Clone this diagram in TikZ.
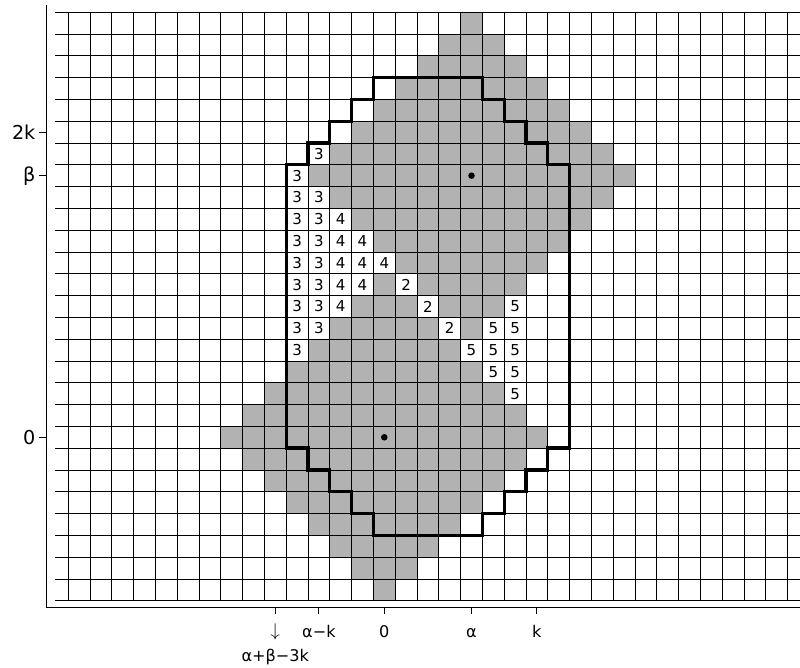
\documentclass[tikz,border=0pt]{standalone}
\usepackage{fontspec}
\setmainfont{DejaVu Sans}
\definecolor{cellgray}{gray}{0.7}
\begin{document}
\begin{tikzpicture}[x=0.5cm, y=0.5cm,
    gridline/.style={line width=0.5pt, black},
    boundary/.style={line width=2.2pt, black},
    axis/.style={line width=0.6pt, black},
    numcell/.style={fill=white, inner sep=0, outer sep=0, minimum size=0.5cm, font=\fontsize{9.8}{10}\selectfont},
    xlabel/.style={anchor=base, inner sep=0, outer sep=0, font=\fontsize{10.5}{12}\selectfont},
    ylabel/.style={anchor=east, inner sep=0, outer sep=0, xshift=-0.08cm, font=\fontsize{12.5}{14}\selectfont},
    centre/.style={circle, fill=black, inner sep=0, minimum size=0.15cm}]

  \useasboundingbox (-17.13,-10.04) rectangle (19.57,20.56);
  \clip (-17.13,-10.04) rectangle (19.57,20.56);

  % diamond round 0
  \foreach \j in {-7,...,7} {
    \pgfmathtruncatemacro{\r}{7-abs(\j)}
    \fill[cellgray] ({-\r},\j) rectangle ({\r+1},{\j+1});
  }
  % diamond round (alpha,beta)
  \foreach \j in {5,...,19} {
    \pgfmathtruncatemacro{\r}{7-abs(\j-12)}
    \fill[cellgray] ({4-\r},\j) rectangle ({5+\r},{\j+1});
  }

  % numbered cells
  \foreach \i/\j/\n in {-4/4/3, -4/5/3, -3/5/3, -4/6/3, -3/6/3, -4/7/3, -3/7/3, -4/8/3, -3/8/3,
                        -4/9/3, -3/9/3, -4/10/3, -3/10/3, -4/11/3, -3/11/3, -4/12/3, -3/13/3,
                        -2/6/4, -2/7/4, -1/7/4, -2/8/4, -1/8/4, 0/8/4, -2/9/4, -1/9/4, -2/10/4,
                        1/7/2, 2/6/2, 3/5/2,
                        6/2/5, 5/3/5, 6/3/5, 4/4/5, 5/4/5, 6/4/5, 5/5/5, 6/5/5, 6/6/5}
    \node[numcell] (cell\i_\j) at ({\i+0.5},{\j+0.5}) {\n};

  % grid
  \draw[gridline, step=0.5cm] (-14.6,-7) grid (19.6,20);

  % boundary
  \draw[boundary] (0,17) -- (5,17) -- (5,16) -- (6,16) -- (6,15) -- (7,15) -- (7,14) -- (8,14)
    -- (8,13) -- (9,13) -- (9,0) -- (8,0) -- (8,-1) -- (7,-1) -- (7,-2) -- (6,-2) -- (6,-3)
    -- (5,-3) -- (5,-4) -- (0,-4) -- (0,-3) -- (-1,-3) -- (-1,-2) -- (-2,-2) -- (-2,-1)
    -- (-3,-1) -- (-3,0) -- (-4,0) -- (-4,13) -- (-3,13) -- (-3,14) -- (-2,14) -- (-2,15)
    -- (-1,15) -- (-1,16) -- (0,16) -- cycle;

  % centres
  \node[centre] (centre-0) at (0.5,0.5) {};
  \node[centre] (centre-ab) at (4.5,12.5) {};

  % axes
  \coordinate (y-top) at (-15,20.33);
  \coordinate (corner) at (-15,-7.29);
  \coordinate (x-end) at (19.6,-7.29);
  \draw[axis] (y-top) -- (corner) -- (x-end);

  % y ticks
  \draw[axis] (-15,14.5) -- ++(-0.35,0) node[ylabel] (lbl-2k) {2k};
  \draw[axis] (-15,12.5) -- ++(-0.35,0) node[ylabel] (lbl-beta) {β};
  \draw[axis] (-15,0.5) -- ++(-0.35,0) node[ylabel] (lbl-y0) {0};

  % x ticks
  \draw[axis] (-4.5,-7.29) -- ++(0,-0.32);
  \draw[axis] (-2.5,-7.29) -- ++(0,-0.32);
  \draw[axis] (0.5,-7.29) -- ++(0,-0.32);
  \draw[axis] (4.5,-7.29) -- ++(0,-0.32);
  \draw[axis] (7.5,-7.29) -- ++(0,-0.32);
  \node[xlabel, font=\fontsize{12.5}{14}\selectfont] (lbl-arrow) at (-4.5,-8.62) {$\downarrow$};
  \node[xlabel] (lbl-abk) at (-4.5,-9.79) {α+β−3k};
  \node[xlabel] (lbl-ak) at (-2.5,-8.69) {α−k};
  \node[xlabel] (lbl-x0) at (0.5,-8.69) {0};
  \node[xlabel] (lbl-alpha) at (4.5,-8.69) {α};
  \node[xlabel] (lbl-k) at (7.5,-8.69) {k};
\end{tikzpicture}
\end{document}
